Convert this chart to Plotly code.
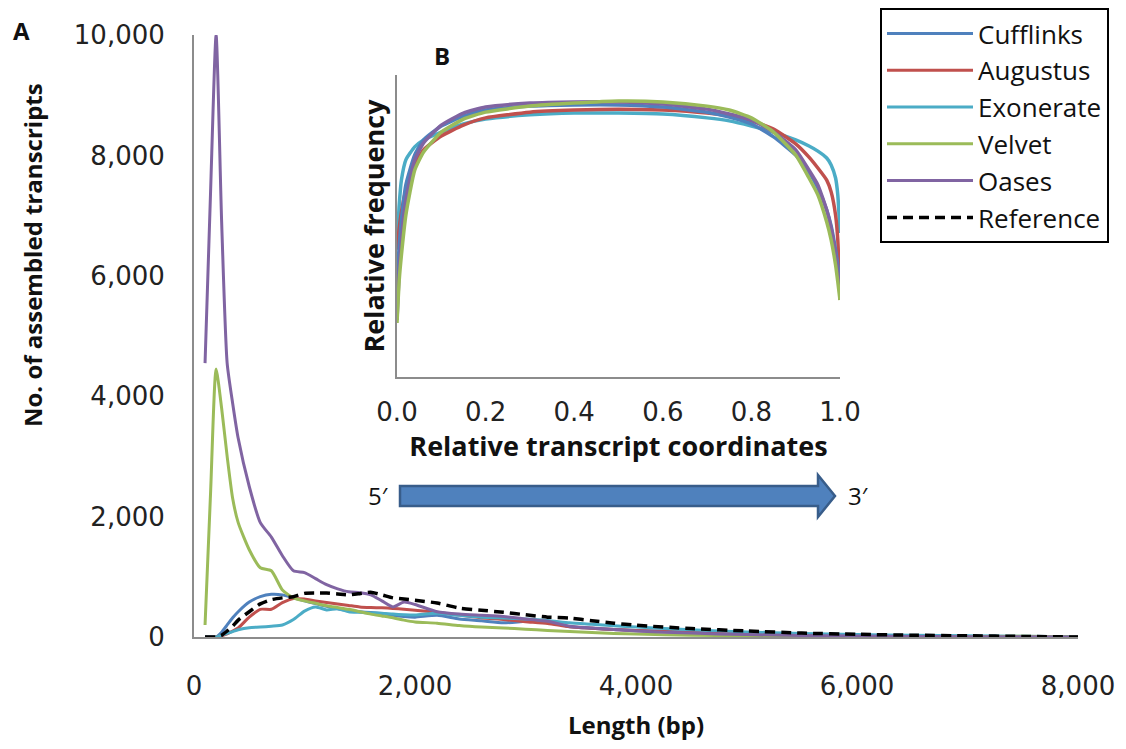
import plotly.graph_objects as go

# ---------------- Data: panel A (length distribution) ----------------
length_bp = [100, 150, 200, 250, 300, 350, 400, 500, 600, 700, 800, 900, 1000, 1100, 1200,
             1300, 1400, 1500, 1600, 1700, 1800, 1900, 2000, 2200, 2400, 2600, 2800, 3000,
             3200, 3400, 3600, 3800, 4000, 4500, 5000, 5500, 6000, 6500, 7000, 7500, 8000]

cufflinks = [0, 0, 0, 80, 200, 320, 420, 580, 670, 710, 700, 650, 600, 555, 510,
             470, 440, 420, 405, 390, 360, 340, 330, 360, 300, 270, 235, 260,
             270, 170, 145, 125, 110, 80, 55, 40, 25, 15, 10, 5, 0]
augustus = [0, 0, 0, 20, 50, 100, 150, 330, 460, 460, 570, 640, 630, 600, 575,
            550, 525, 500, 490, 485, 475, 460, 445, 410, 365, 320, 290, 255,
            225, 170, 145, 125, 110, 75, 50, 35, 22, 14, 8, 4, 0]
exonerate = [0, 0, 0, 30, 60, 90, 120, 155, 165, 180, 200, 290, 430, 500, 450,
             470, 420, 410, 400, 395, 380, 370, 365, 395, 360, 330, 315, 300,
             275, 235, 210, 185, 165, 120, 85, 60, 40, 30, 20, 12, 5]
velvet = [200, 2400, 4450, 3800, 3000, 2300, 1900, 1450, 1150, 1100, 780, 650, 600, 560, 520,
          490, 460, 420, 380, 350, 320, 280, 250, 230, 190, 165, 150, 130,
          110, 90, 75, 60, 50, 30, 20, 12, 8, 5, 5, 12, 0]
oases = [4550, 7400, 10000, 6900, 4550, 3880, 3300, 2500, 1900, 1660, 1350, 1100, 1070, 970, 870,
         800, 750, 735, 700, 600, 500, 580, 540, 420, 380, 360, 340, 300,
         260, 180, 150, 125, 100, 65, 40, 25, 15, 10, 5, 3, 0]
reference = [0, 0, 0, 30, 100, 180, 280, 420, 550, 620, 650, 670, 725, 730, 730,
             715, 700, 720, 745, 700, 650, 630, 610, 565, 480, 445, 410, 370,
             330, 315, 270, 230, 195, 140, 100, 65, 45, 30, 20, 10, 0]

# ---------------- Data: panel B (coverage along transcripts) ----------------
rel_coord = [0.0, 0.005, 0.01, 0.02, 0.04, 0.06, 0.1, 0.15, 0.2, 0.3, 0.4, 0.5, 0.6,
             0.7, 0.75, 0.8, 0.85, 0.9, 0.93, 0.95, 0.97, 0.98, 0.99, 0.995, 1.0]

cov_cufflinks = [0.305, 0.437, 0.520, 0.636, 0.735, 0.785, 0.831, 0.864, 0.884, 0.897, 0.901, 0.901,
                 0.894, 0.877, 0.861, 0.838, 0.795, 0.735, 0.679, 0.626, 0.553, 0.500, 0.421, 0.371, 0.311]
cov_augustus = [0.421, 0.493, 0.546, 0.619, 0.702, 0.752, 0.798, 0.834, 0.858, 0.877, 0.884, 0.887,
                0.884, 0.874, 0.864, 0.848, 0.821, 0.772, 0.728, 0.692, 0.652, 0.613, 0.536, 0.454, 0.255]
cov_exonerate = [0.430, 0.570, 0.652, 0.719, 0.762, 0.785, 0.811, 0.838, 0.854, 0.868, 0.874, 0.874,
                 0.871, 0.858, 0.848, 0.831, 0.811, 0.785, 0.765, 0.748, 0.725, 0.702, 0.659, 0.603, 0.477]
cov_velvet = [0.179, 0.321, 0.404, 0.536, 0.685, 0.745, 0.811, 0.854, 0.877, 0.897, 0.907, 0.914,
              0.911, 0.897, 0.884, 0.858, 0.811, 0.735, 0.659, 0.603, 0.513, 0.454, 0.371, 0.315, 0.255]
cov_oases = [0.189, 0.354, 0.454, 0.586, 0.719, 0.775, 0.834, 0.874, 0.894, 0.907, 0.911, 0.911,
             0.904, 0.887, 0.871, 0.851, 0.811, 0.752, 0.685, 0.636, 0.553, 0.493, 0.404, 0.348, 0.288]

x_ticks_a = [0, 2000, 4000, 6000, 8000]
y_ticks_a = [0, 2000, 4000, 6000, 8000, 10000]
x_ticks_b = [0.0, 0.2, 0.4, 0.6, 0.8, 1.0]

names = ["Cufflinks", "Augustus", "Exonerate", "Velvet", "Oases"]
colors = ["#4F81BD", "#C0504D", "#4BACC6", "#9BBB59", "#8064A2"]

# page body has an 8px margin; size the figure so it fits the window without scrolling
OFF = 8
W, H = 1118, 733
def px(x):
    return (x - OFF) / W
def py(y):
    return 1 - (y - OFF) / H

fig = go.Figure()

main_series = [cufflinks, augustus, exonerate, velvet, oases]
for nm, col, ys in zip(names, colors, main_series):
    fig.add_trace(go.Scatter(x=length_bp, y=ys, mode="lines", name=nm,
                             line=dict(color=col, width=3, shape="spline", smoothing=0.6),
                             legendgroup=nm, xaxis="x", yaxis="y"))
fig.add_trace(go.Scatter(x=length_bp, y=reference, mode="lines", name="Reference",
                         line=dict(color="black", width=3.5, dash="10px,6px", shape="spline", smoothing=0.6),
                         legendgroup="Reference", xaxis="x", yaxis="y"))

inset_series = [cov_cufflinks, cov_augustus, cov_exonerate, cov_velvet, cov_oases]
order = [2, 1, 0, 4, 3]
for i in order:
    fig.add_trace(go.Scatter(x=rel_coord, y=inset_series[i], mode="lines", name=names[i],
                             line=dict(color=colors[i], width=3.5, shape="spline", smoothing=0.5),
                             showlegend=False, legendgroup=names[i], xaxis="x2", yaxis="y2"))

axis_col = "#8C8C8C"
tick_font = dict(family="DejaVu Sans", size=26, color="#222")
title_font = dict(family="Open Sans", size=24, color="#111", weight="bold")
inset_title_font = dict(family="Open Sans", size=27, color="#111", weight="bold")

fig.update_layout(
    width=W, height=H,
    margin=dict(l=0, r=0, t=0, b=0, autoexpand=False),
    paper_bgcolor="white", plot_bgcolor="rgba(0,0,0,0)",
    xaxis=dict(domain=[px(194), px(1078)], range=[0, 8000], tickvals=x_ticks_a,
               tickformat=",d", showline=True, linecolor=axis_col, linewidth=2,
               showgrid=False, zeroline=False, ticks="outside", ticklen=25,
               tickcolor="rgba(0,0,0,0)", tickfont=tick_font, automargin=False,
               ticklabeloverflow="allow",
               title=dict(text="Length (bp)", font=title_font, standoff=18)),
    yaxis=dict(domain=[py(637), py(35)], range=[0, 10000], tickvals=y_ticks_a,
               tickformat=",d", showline=True, linecolor=axis_col, linewidth=2,
               showgrid=False, zeroline=False, ticks="outside", ticklen=22,
               tickcolor="rgba(0,0,0,0)", tickfont=tick_font, automargin=False,
               ticklabeloverflow="allow"),
    xaxis2=dict(domain=[px(397), px(840)], range=[0, 1], anchor="y2", tickvals=x_ticks_b,
                tickformat=".1f", showline=True, linecolor=axis_col, linewidth=2,
                showgrid=False, zeroline=False, ticks="outside", ticklen=11,
                tickcolor="rgba(0,0,0,0)", tickfont=tick_font, automargin=False,
                ticklabeloverflow="allow",
                title=dict(text="Relative transcript coordinates", font=inset_title_font, standoff=4)),
    yaxis2=dict(domain=[py(377), py(75)], range=[0, 1], anchor="x2", showticklabels=False,
                showline=True, linecolor=axis_col, linewidth=2, showgrid=False,
                zeroline=False, ticks="", automargin=False,
                title=dict(text="Relative frequency", font=inset_title_font, standoff=3)),
    legend=dict(x=px(880), y=py(8), xanchor="left", yanchor="top",
                bgcolor="white", bordercolor="black", borderwidth=2,
                font=dict(family="Open Sans", size=26, color="#111"),
                tracegroupgap=0, itemwidth=86),
    showlegend=True,
)

# Arrow 5' -> 3'
arrow_path = ("M {a},{b} L {c},{b} L {c},{d} L {e},{f} L {c},{g} L {c},{h} L {a},{h} Z").format(
    a=px(400), b=py(486), c=px(818), d=py(475), e=px(835), f=py(496), g=py(517), h=py(506))
fig.add_shape(type="path", path=arrow_path, xref="paper", yref="paper",
              fillcolor="#4F81BD", line=dict(color="#385D8A", width=2.5))

# Main y-axis title (placed above the axis centre, as in the original figure)
fig.add_annotation(x=px(33), y=py(255), xref="paper", yref="paper",
                   text="No. of assembled transcripts", textangle=-90,
                   xanchor="center", yanchor="middle", showarrow=False, font=title_font)

ann_font = dict(family="Open Sans", size=24, color="#111")
labels = [("<b>A</b>", 21, 30), ("<b>B</b>", 442, 56), ("5′", 378, 495), ("3′", 858, 495)]
for txt, lx, ly in labels:
    fig.add_annotation(x=px(lx), y=py(ly), xref="paper", yref="paper", text=txt,
                       xanchor="center", yanchor="middle", showarrow=False, font=ann_font)

fig.write_html("out.html")
